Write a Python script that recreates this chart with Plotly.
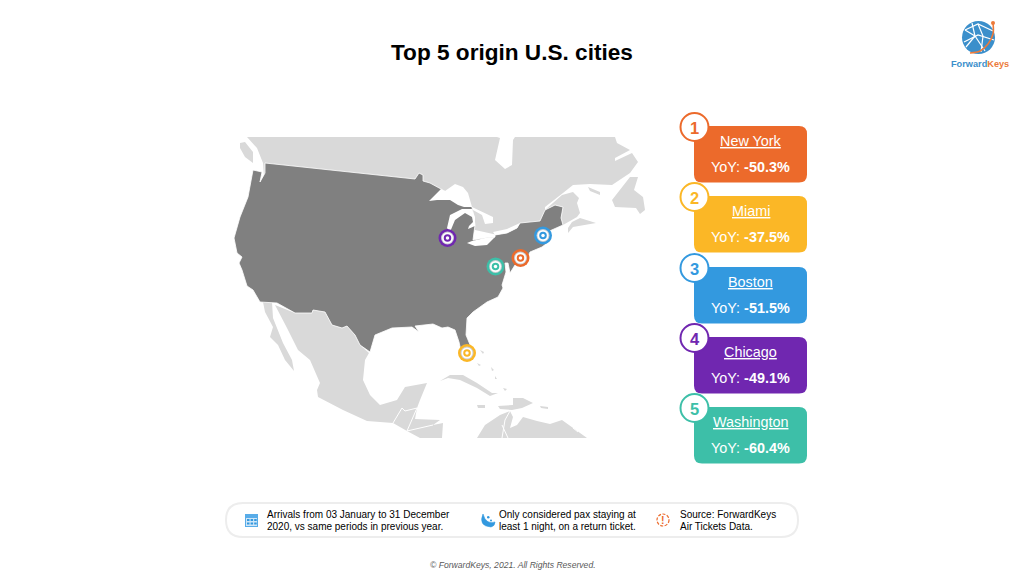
import plotly.graph_objects as go

# ---- data ----
ranks = [1, 2, 3, 4, 5]
cities = ["New York", "Miami", "Boston", "Chicago", "Washington"]
yoy = [-50.3, -37.5, -51.5, -49.1, -60.4]
colors = ["#EC6A2B", "#FBB726", "#3399DF", "#7027B0", "#3DBFA8"]
city_x = [520.5, 467, 543, 447.5, 495.5]
city_y = [258, 353, 235.5, 238, 266.5]
title = "Top 5 origin U.S. cities"
notes = [["Arrivals from 03 January to 31 December", "2020, vs same periods in previous year."],
         ["Only considered pax staying at", "least 1 night, on a return ticket."],
         ["Source: ForwardKeys", "Air Tickets Data."]]
footer = "© ForwardKeys, 2021. All Rights Reserved."

# Map outlines (page pixels)
usa = [(265,163),(415,179),(419,173),(423,175),(423,181),(430,183),(441,189),(472,207),(475,225),(473,240),
       (485,238),(495,237),(495,235),(507,233),(517,228),(520,223),(540,221),(545,210),(555,205),(563,207),
       (561,218),(563,225),(545,233),(551,240),(542,247),(530,252),(525,262),(515,265),(510,273),(508,263),
       (505,263),(506,272),(502,285),(503,288),(498,297),(487,302),(473,312),(467,318),(466,335),(473,352),
       (470,360),(463,360),(459,342),(455,330),(448,327),(442,328),(433,324),(415,326),(419,332),(412,327),
       (392,328),(375,335),(370,352),(360,345),(355,335),(347,326),(342,328),(332,325),(325,312),(313,310),
       (312,313),(295,313),(277,303),(260,302),(253,290),(247,286),(242,270),(239,263),(242,257),(237,253),
       (234,238),(240,217),(248,197),(253,170),(262,172),(260,182),(265,173)]
canada = [(247,137),(257,148),(263,163),(265,190),(430,220),(520,240),(545,240),(545,207),(563,193),(573,185),
          (590,184),(612,185),(630,173),(638,162),(632,153),(615,161),(615,158),(630,150),(617,143),(615,137),
          (515,137),(513,140),(512,165),(505,169),(495,160),(500,138),(497,137)]
vancouver = [(240,143),(245,142),(253,152),(253,163),(245,157),(240,148)]
new_brunswick = [(545,210),(555,205),(563,207),(561,218),(563,225),(577,217),(580,213),(577,203),(579,198),(573,192),(562,195)]
nova_scotia = [(568,233),(573,227),(596,223),(580,218),(572,222),(568,228)]
anticosti = [(588,187),(600,192),(600,195),(590,191)]
newfoundland = [(612,200),(630,177),(638,177),(634,190),(643,197),(645,210),(640,214),(636,208),(615,207)]
baja = [(263,302),(272,302),(273,318),(283,343),(292,360),(294,371),(285,360),(278,345),(270,337),(273,327),(265,312)]
mexico = [(275,305),(295,313),(312,313),(313,310),(325,312),(332,325),(342,328),(347,326),(355,335),(360,345),
          (369,353),(365,360),(363,380),(370,395),(380,405),(397,400),(405,387),(427,383),(420,400),(417,408),
          (402,408),(398,417),(393,423),(367,421),(343,410),(318,397),(317,390),(320,383),(310,360),(298,350),(287,328)]
central_am = [(393,423),(398,417),(402,408),(417,408),(415,419),(440,420),(433,425),(443,423),(442,438),(420,438),(407,431)]
cuba = [(440,381),(450,375),(463,375),(477,383),(492,393),(498,393),(490,396),(477,388),(460,380),(448,378)]
jamaica = [(477,405),(485,405),(485,408),(478,408)]
hispaniola = [(498,406),(513,405),(513,398),(523,398),(533,403),(522,408),(512,410),(500,409)]
puerto = [(540,406),(548,407),(548,409),(541,408)]
south_am = [(477,438),(485,425),(500,415),(510,411),(513,417),(510,428),(517,425),(523,417),(537,421),(550,424),
            (562,420),(573,428),(587,438)]
bahamas = [[(480,350),(484,352),(483,354)], [(477,363),(481,365),(479,366)], [(491,367),(494,370),(492,371)],
           [(495,376),(497,379),(495,379)], [(503,388),(507,389),(505,391)]]
water = [
    [(429,201),(441,189),(445,191),(455,184),(463,187),(468,193),(472,207),(464,207),(458,205),(450,200),(437,200)],
    [(462,209),(450,215),(447,228),(450,232),(455,220),(465,213),(472,217),(473,222),(469,226),(468,229),(475,226),(475,217),(472,209)],
    [(472,207),(483,212),(493,217),(493,223),(485,224),(482,215),(473,210)],
    [(467,243),(475,246),(487,245),(495,237),(485,238),(472,241)],
    [(493,232),(507,229),(520,223),(517,228),(507,233),(495,235)],
]
borders = [
    [(402,408),(397,417),(393,423)], [(417,408),(405,411),(402,408)], [(417,408),(411,421),(407,431)],
    [(407,431),(420,428),(433,425)], [(510,411),(505,420),(502,438)], [(502,425),(508,438)],
    [(573,428),(578,432)],
]
# Logo network lines and orbit (page pixels)
logo_lines = [[(965,30),(978,24),(993,31)], [(964,42),(978,35),(994,40)], [(966,47),(975,36),(972,23)],
              [(975,36),(985,51)], [(978,24),(983,36),(981,52)], [(965,30),(975,36)]]
logo_orbit = [(970,53),(980,51),(988,44),(993,34),(993,23)]


def xy(polys):
    xs, ys = [], []
    for p in polys:
        xs += [q[0] for q in p] + [p[0][0], None]
        ys += [q[1] for q in p] + [p[0][1], None]
    return xs, ys


def open_xy(polys):
    xs, ys = [], []
    for p in polys:
        xs += [q[0] for q in p] + [None]
        ys += [q[1] for q in p] + [None]
    return xs, ys


def rrect(x0, y0, x1, y1, r):
    return (f"M{x0+r},{y0} L{x1-r},{y0} Q{x1},{y0} {x1},{y0+r} L{x1},{y1-r} Q{x1},{y1} {x1-r},{y1} "
            f"L{x0+r},{y1} Q{x0},{y1} {x0},{y1-r} L{x0},{y0+r} Q{x0},{y0} {x0+r},{y0} Z")


fig = go.Figure()


def area(polys, color, line=0, lc=None):
    x, y = xy(polys)
    fig.add_trace(go.Scatter(x=x, y=y, mode="lines", fill="toself", fillcolor=color,
                             line=dict(width=line, color=lc or color), hoverinfo="skip", showlegend=False))


LIGHT = "#D9D9D9"
DARK = "#808080"
area([canada, vancouver, new_brunswick, nova_scotia, anticosti, newfoundland, baja, mexico, central_am, cuba, jamaica,
      hispaniola, puerto, south_am] + bahamas, LIGHT)
area([usa], DARK, 0.8, "#FFFFFF")
area(water, "#FFFFFF")
bx, by = open_xy(borders)
fig.add_trace(go.Scatter(x=bx, y=by, mode="lines", line=dict(color="#FFFFFF", width=1), hoverinfo="skip", showlegend=False))

# City pins: nested rings
for size, col in [(18, colors), (13, ["#C9CDD0"] * 5), (11, ["#FFFFFF"] * 5), (7.5, colors), (3.5, ["#FFFFFF"] * 5)]:
    fig.add_trace(go.Scatter(x=city_x, y=city_y, mode="markers", text=cities, hoverinfo="text",
                             marker=dict(size=size, color=col, line=dict(width=0)), showlegend=False))

shapes, annos = [], []


def text(x, y, s, size, color="#000000", anchor="center", family="Liberation Sans"):
    annos.append(dict(x=x, y=y, xref="x", yref="y", text=s, showarrow=False, xanchor=anchor, yanchor="middle",
                      font=dict(size=size, color=color, family=family), borderpad=0, borderwidth=0))


text(512, 52.5, "<b>" + title + "</b>", 22.6)

# Cards
card_x0, card_x1 = 694, 807
card_tops = [126, 196, 267, 337, 407]
for r, c, v, col, top in zip(ranks, cities, yoy, colors, card_tops):
    shapes.append(dict(type="path", path=rrect(card_x0, top, card_x1, top + 56.5, 8), fillcolor=col, line=dict(width=0), layer="below"))
    shapes.append(dict(type="circle", x0=680.5, x1=708.5, y0=top - 13, y1=top + 15, fillcolor="#FFFFFF", line=dict(color=col, width=2), layer="above"))
    text(694.5, top + 2, f"<b>{r}</b>", 16.5, col)
    text(750.5, top + 14.8, f"<u>{c}</u>", 14.4, "#FFFFFF")
    text(750.5, top + 40.8, f"YoY: <b>{v:.1f}%</b>", 14.4, "#FFFFFF")

# Notes pill
shapes.append(dict(type="path", path=rrect(226, 503, 798, 537, 17), fillcolor="#FFFFFF", line=dict(color="#EDEDED", width=2), layer="below"))
for x, lines in zip([267, 499, 680], notes):
    text(x, 514, lines[0], 10, anchor="left")
    text(x, 526, lines[1], 10, anchor="left")
# Calendar icon
shapes.append(dict(type="rect", x0=245, x1=258, y0=514, y1=527, fillcolor="#58ACE8", line=dict(width=0)))
shapes.append(dict(type="rect", x0=246, x1=257, y0=518, y1=526, fillcolor="#CFE6F8", line=dict(width=0)))
for i in range(3):
    shapes.append(dict(type="rect", x0=247 + 3.6 * i, x1=249.5 + 3.6 * i, y0=519, y1=521, fillcolor="#3399DF", line=dict(width=0)))
    shapes.append(dict(type="rect", x0=247 + 3.6 * i, x1=249.5 + 3.6 * i, y0=522.5, y1=524.5, fillcolor="#3399DF", line=dict(width=0)))
# Moon icon
shapes.append(dict(type="path", path="M483,514 Q478,526 491,527 Q495,526 495,522 Q486,525 483,514 Z", fillcolor="#3399DF", line=dict(color="#3399DF", width=0.6)))
shapes.append(dict(type="circle", x0=487, x1=489.5, y0=516, y1=518.5, fillcolor="#3399DF", line=dict(width=0)))
shapes.append(dict(type="circle", x0=490, x1=492, y0=519.5, y1=521.5, fillcolor="#3399DF", line=dict(width=0)))
# Alert icon
shapes.append(dict(type="circle", x0=657, x1=669, y0=514, y1=526, fillcolor="#FFFFFF", line=dict(color="#EC6A2B", width=1.2, dash="3px,1.5px")))
text(663, 520, "<b>!</b>", 10.5, "#EC6A2B")

# Footer
text(513, 564.5, "<i>" + footer + "</i>", 8.6, "#595959")

# Logo
shapes.append(dict(type="circle", x0=962, x1=995, y0=21, y1=54, fillcolor="#3B8FCB", line=dict(width=0), layer="below"))
lx, ly = open_xy(logo_lines)
fig.add_trace(go.Scatter(x=lx, y=ly, mode="lines", line=dict(color="#FFFFFF", width=1.2), hoverinfo="skip", showlegend=False))
ox, oy = open_xy([logo_orbit])
fig.add_trace(go.Scatter(x=ox, y=oy, mode="lines", line=dict(color="#EC7A3A", width=1.6, shape="spline"), hoverinfo="skip", showlegend=False))
fig.add_trace(go.Scatter(x=[993], y=[23], mode="markers", marker=dict(size=4, color="#EC7A3A"), hoverinfo="skip", showlegend=False))
text(979.5, 63.5, "<b><span style='color:#3B8FCB'>Forward</span><span style='color:#EC7A3A'>Keys</span></b>", 9.2, family="Liberation Sans")

fig.update_layout(
    width=1024, height=576, margin=dict(l=0, r=0, t=0, b=0), paper_bgcolor="#FFFFFF", plot_bgcolor="#FFFFFF",
    xaxis=dict(range=[0, 1024], visible=False, fixedrange=True),
    yaxis=dict(range=[576, 0], visible=False, fixedrange=True),
    shapes=shapes, annotations=annos, showlegend=False,
)
fig.write_html("out.html", config={"displayModeBar": False},
               post_script="document.body.style.margin='0';document.documentElement.style.overflow='hidden';")
